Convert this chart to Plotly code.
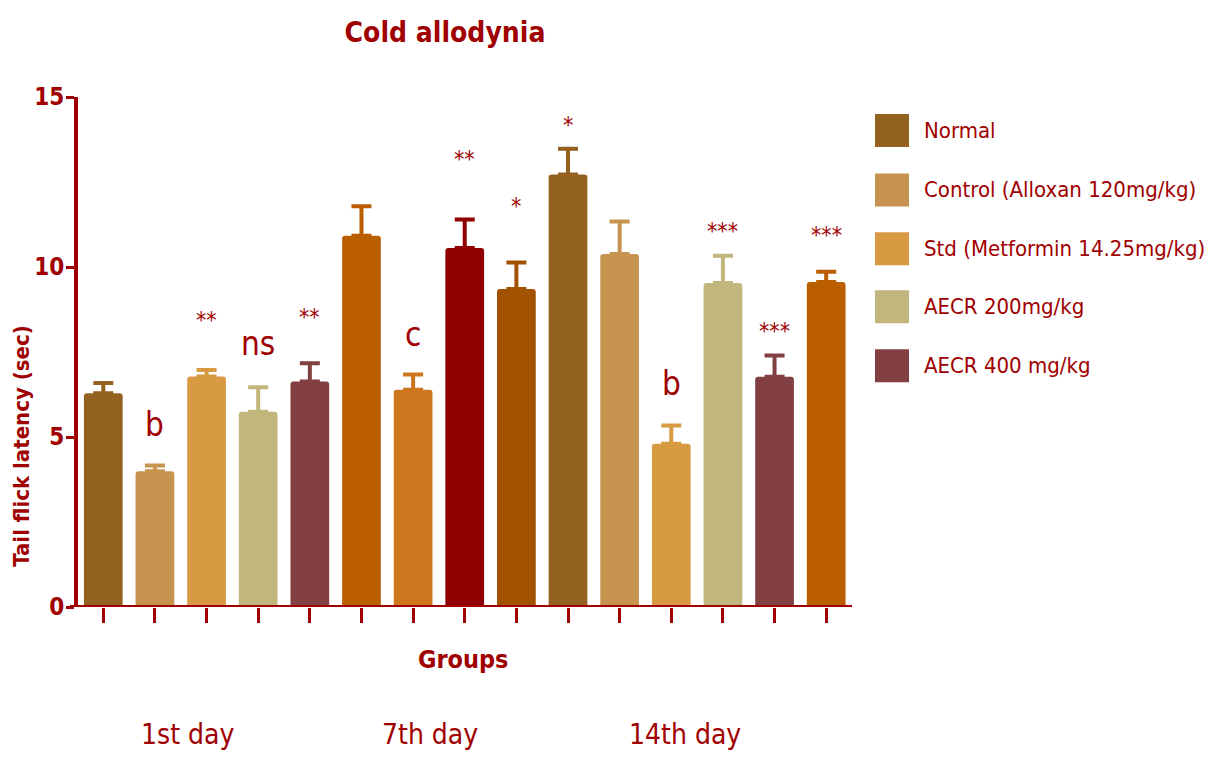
import plotly.graph_objects as go

# ---------------- data ----------------
legend_labels = ["Normal", "Control (Alloxan 120mg/kg)", "Std (Metformin 14.25mg/kg)",
                 "AECR 200mg/kg", "AECR 400 mg/kg"]
day_labels = ["1st day", "7th day", "14th day"]
means = [6.29, 3.99, 6.78, 5.74, 6.63, 10.92, 6.39, 10.56, 9.35, 12.72, 10.38, 4.80, 9.53, 6.77, 9.56]
sem = [0.30, 0.17, 0.19, 0.72, 0.54, 0.87, 0.45, 0.84, 0.78, 0.76, 0.96, 0.54, 0.80, 0.63, 0.30]
sig = ["", "b", "**", "ns", "**", "", "c", "**", "*", "*", "", "b", "***", "***", "***"]

# ---------------- style ----------------
bar_colors = ["#946220", "#C6944F", "#D79A42", "#C1B67C", "#824042",
              "#BA5E00", "#CE761E", "#900000", "#A35200",
              "#946220", "#C6944F", "#D79A42", "#C1B67C", "#824042", "#BA5E00"]
legend_colors = ["#946220", "#C6944F", "#D79A42", "#C1B67C", "#824042"]
sig_offset = [0, 1.2, 1.5, 1.3, 1.36, 0, 1.18, 1.78, 1.68, 0.71, 0, 1.22, 0.74, 0.73, 1.11]
RED = "#A00000"
FONT = "Liberation Sans Narrow, Arial Narrow, DejaVu Sans Condensed, sans-serif"

OFF = 8                      # page body margin
W, H = 1215 - OFF, 765 - OFF
L, T = 78 - OFF, 97 - OFF
PW, PH = 774, 510.5
R, B = W - L - PW, H - T - PH


def px(x):   # reference pixel x -> paper
    return (x - 78) / PW


def py(y):   # reference pixel y -> paper
    return (607.5 - y) / PH


fig = go.Figure()
for i, (m, e) in enumerate(zip(means, sem)):
    fig.add_trace(go.Bar(
        x=[i], y=[m], width=0.75,
        marker=dict(color=bar_colors[i], line=dict(width=0), cornerradius=3),
        error_y=dict(type="data", symmetric=False, array=[e], arrayminus=[0],
                     color=bar_colors[i], thickness=4, width=10),
        showlegend=False, hoverinfo="y",
    ))

ann = []
for i, s in enumerate(sig):
    if not s:
        continue
    star = s.startswith("*")
    size = 23 if star else 33
    ann.append(dict(x=i, y=means[i] + sem[i] + sig_offset[i], xref="x", yref="y",
                    text=s, showarrow=False, xanchor="center", yanchor="middle",
                    yshift=-0.5 if star else 0,
                    font=dict(family=FONT, size=size, color=RED)))

for k, d in enumerate(day_labels):
    ann.append(dict(x=px([187, 430, 685][k]), y=py(735), xref="paper", yref="paper",
                    text=d, showarrow=False, xanchor="center", yanchor="middle",
                    font=dict(family=FONT, size=28, color=RED)))

ann.append(dict(x=px(463), y=py(660), xref="paper", yref="paper",
                text="Groups", showarrow=False, xanchor="center", yanchor="middle",
                font=dict(family=FONT, size=25, color=RED, weight="bold")))
ann.append(dict(x=px(22), y=py(447), xref="paper", yref="paper",
                text="Tail flick latency (sec)", showarrow=False, textangle=-90,
                xanchor="center", yanchor="middle",
                font=dict(family=FONT, size=22, color=RED, weight="bold")))

# manual legend
shapes = []
row_y = [130.5, 190, 249, 307, 366]
for j, (lab, col) in enumerate(zip(legend_labels, legend_colors)):
    yc = row_y[j]
    shapes.append(dict(type="rect", xref="paper", yref="paper",
                       x0=px(875), x1=px(909), y0=py(yc + 16.5), y1=py(yc - 16.5),
                       fillcolor=col, line=dict(width=0), layer="above"))
    ann.append(dict(x=px(922), y=py(yc), xref="paper", yref="paper",
                    text=lab, showarrow=False, xanchor="left", yanchor="middle",
                    font=dict(family=FONT, size=22, color=RED)))

# x axis line (extends slightly left of y axis)
shapes.append(dict(type="line", xref="paper", yref="y", x0=-8 / PW, x1=1, y0=0, y1=0,
                   line=dict(color=RED, width=4), layer="above"))

fig.update_layout(
    width=W, height=H,
    margin=dict(l=L, r=R, t=T, b=B, pad=0, autoexpand=False),
    paper_bgcolor="white", plot_bgcolor="white",
    barmode="overlay",
    title=dict(text="Cold allodynia", x=(445 - OFF) / W, xanchor="center",
               y=1 - (32 - OFF) / H, yanchor="middle",
               font=dict(family=FONT, size=28, color=RED, weight="bold")),
    xaxis=dict(range=[-0.49, 14.5], showgrid=False, zeroline=False, showline=False,
               tickmode="array", tickvals=list(range(15)), ticktext=[""] * 15,
               ticks="outside", ticklen=15, tickwidth=3, tickcolor=RED),
    yaxis=dict(range=[0, 15], showgrid=False, zeroline=False, showline=True,
               linecolor=RED, linewidth=4, tickmode="array", tickvals=[0, 5, 10, 15],
               ticks="outside", ticklen=8, tickwidth=3, tickcolor=RED,
               ticklabelstandoff=-3,
               tickfont=dict(family=FONT, size=24, color=RED, weight="bold")),
    annotations=ann, shapes=shapes, showlegend=False,
)

fig.write_html("out.html")
